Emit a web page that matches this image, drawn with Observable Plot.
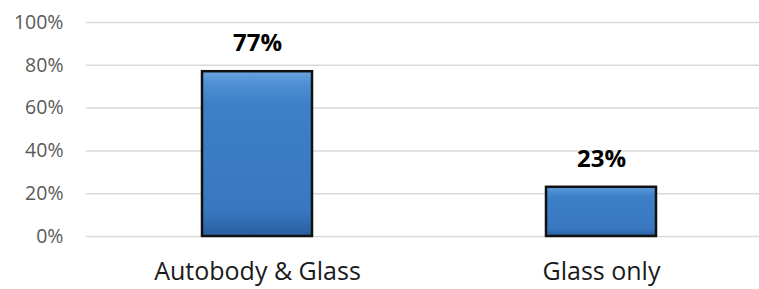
<!DOCTYPE html>
<html>
<head>
<meta charset="utf-8">
<script src="https://cdn.jsdelivr.net/npm/d3@7"></script>
<script src="https://cdn.jsdelivr.net/npm/@observablehq/plot@0.6"></script>
<style>
  html, body { margin: 0; padding: 0; background: #fff; }
  #chart svg { display: block; }
</style>
</head>
<body>
<div id="chart"></div>
<script>
const categories = ["Autobody & Glass", "Glass only"];
const shares = [0.77, 0.23];
const yTicks = [0, 0.2, 0.4, 0.6, 0.8, 1.0];

const data = categories.map((c, i) => ({category: c, share: shares[i]}));

const defs = () => {
  const ns = "http://www.w3.org/2000/svg";
  const d = document.createElementNS(ns, "defs");
  d.innerHTML = `
    <linearGradient id="barGrad" x1="0" y1="0" x2="0" y2="1">
      <stop offset="0" stop-color="#6aa6e0"/>
      <stop offset="0.07" stop-color="#4f91d4"/>
      <stop offset="0.2" stop-color="#3d80c8"/>
      <stop offset="0.85" stop-color="#3878c0"/>
      <stop offset="1" stop-color="#275e9c"/>
    </linearGradient>`;
  return d;
};

const chart = Plot.plot({
  width: 759,
  height: 289,
  marginTop: 22,
  marginBottom: 53,
  marginLeft: 86,
  marginRight: 0,
  style: {fontFamily: "'Open Sans', 'Liberation Sans', sans-serif", background: "#fff"},
  x: {domain: categories, range: [85, 774], paddingInner: 0.68, paddingOuter: 0.34, label: null},
  y: {domain: [0, 1], label: null},
  marks: [
    defs,
    Plot.ruleY(yTicks, {stroke: "#d9d9d9", strokeWidth: 1.5}),
    Plot.axisY({ticks: yTicks, tickFormat: d3.format(".0%"), tickSize: 0, tickPadding: 23, fontSize: 19.5, color: "#595959", label: null}),
    Plot.axisX({tickSize: 0, tickPadding: 26, fontSize: 25, color: "#1a1a1a", label: null}),
    Plot.barY(data, {x: "category", y: "share", fill: "url(#barGrad)", stroke: "#111", strokeWidth: 2.5}),
    Plot.text(data, {x: "category", y: "share", text: d => d3.format(".0%")(d.share), dy: -28, fontSize: 24, fontWeight: "bold", fill: "#000"})
  ]
});

document.getElementById("chart").appendChild(chart);
</script>
</body>
</html>
